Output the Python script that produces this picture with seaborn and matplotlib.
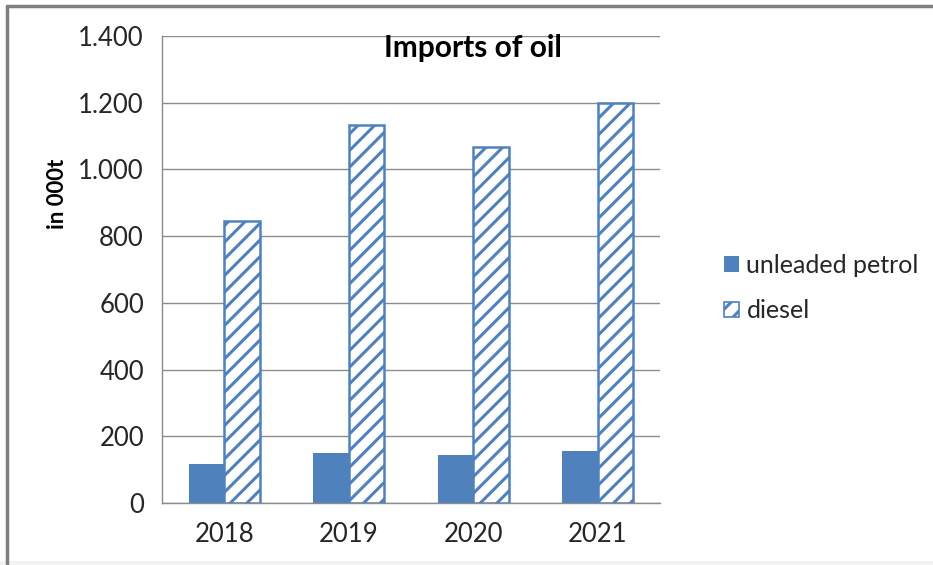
import matplotlib
matplotlib.use("Agg")
import matplotlib.pyplot as plt
from matplotlib.lines import Line2D
from matplotlib.patches import Patch, Rectangle
from matplotlib.ticker import FuncFormatter, FixedLocator
import seaborn as sns
import pandas as pd

years = ["2018", "2019", "2020", "2021"]
unleaded_petrol = [116, 150, 143, 157]
diesel = [846, 1134, 1066, 1198]
series_names = ["unleaded petrol", "diesel"]

BLUE = "#4f81bd"
GRID = "#8c8c8c"
TEXT = "#262626"

sns.set_style("white")
plt.rcParams["font.family"] = ["Lato", "DejaVu Sans"]
plt.rcParams["hatch.linewidth"] = 2.2

df = pd.DataFrame({
    "year": years * 2,
    "value": unleaded_petrol + diesel,
    "fuel": [series_names[0]] * len(years) + [series_names[1]] * len(years),
})

fig = plt.figure(figsize=(9.33, 5.65), dpi=100)
ax = fig.add_axes([162 / 933, 1 - 503 / 565, (660 - 162) / 933, (503 - 36) / 565])

sns.barplot(data=df, x="year", y="value", hue="fuel", order=years,
            hue_order=series_names, palette=[BLUE, BLUE], width=0.57,
            saturation=1, errorbar=None, ax=ax, legend=False)

# petrol solid, diesel white with diagonal hatch
n = len(years)
for i, bar in enumerate(ax.patches[:2 * n]):
    if i < n:
        bar.set_facecolor(BLUE)
        bar.set_edgecolor(BLUE)
        bar.set_linewidth(0)
    else:
        bar.set_facecolor("white")
        bar.set_edgecolor(BLUE)
        bar.set_hatch("//")
        bar.set_linewidth(1.8)

ax.set_xlim(-0.5, len(years) - 0.5)
ax.set_ylim(0, 1400)
ax.set_yticks(range(0, 1401, 200))
ax.yaxis.set_major_formatter(FuncFormatter(lambda v, p: f"{int(v):,}".replace(",", ".")))
ax.yaxis.grid(True, color=GRID, linewidth=1.0)
ax.set_axisbelow(True)
ax.set_xlabel("")
ax.set_ylabel("")

for s in ["top", "right"]:
    ax.spines[s].set_visible(False)
for s in ["left", "bottom"]:
    ax.spines[s].set_color(GRID)
    ax.spines[s].set_linewidth(1.0)

ax.tick_params(axis="y", length=6, width=1, color=GRID, pad=7,
               labelsize=18.5, labelcolor=TEXT)
ax.tick_params(axis="x", which="major", length=0, pad=14,
               labelsize=18.5, labelcolor=TEXT)
ax.xaxis.set_minor_locator(FixedLocator([i - 0.5 for i in range(len(years) + 1)]))
ax.tick_params(axis="x", which="minor", length=6, width=1, color=GRID, direction="out")

ax.text(2.0, 1365, "Imports of oil", fontsize=21.5, fontweight="bold",
        color="black", ha="center", va="center")
fig.text(57 / 933, 1 - 194 / 565, "in 000t", rotation=90, fontsize=16,
         fontweight="bold", color="black", ha="center", va="center")

handles = [Patch(facecolor=BLUE, edgecolor=BLUE, linewidth=0),
           Patch(facecolor="white", edgecolor=BLUE, hatch="//", linewidth=1.2)]
fig.legend(handles, series_names, loc="center left",
           bbox_to_anchor=(724 / 933, 1 - 288 / 565), frameon=False,
           fontsize=18, handlelength=0.6, handleheight=0.6,
           handletextpad=0.3, labelspacing=0.9, labelcolor=TEXT,
           borderpad=0, borderaxespad=0)

# outer frame of the chart area
fig.add_artist(Line2D([7 / 933, 1], [1 - 6 / 565, 1 - 6 / 565],
                      transform=fig.transFigure, color="#7f7f7f", linewidth=2.5))
fig.add_artist(Line2D([7.5 / 933, 7.5 / 933], [0, 1 - 6 / 565],
                      transform=fig.transFigure, color="#7f7f7f", linewidth=2.5))
fig.add_artist(Rectangle((0, 0), 1, 4 / 565, transform=fig.transFigure,
                         facecolor="#f2f2f2", edgecolor="none"))

fig.savefig("out.png", dpi=100)
